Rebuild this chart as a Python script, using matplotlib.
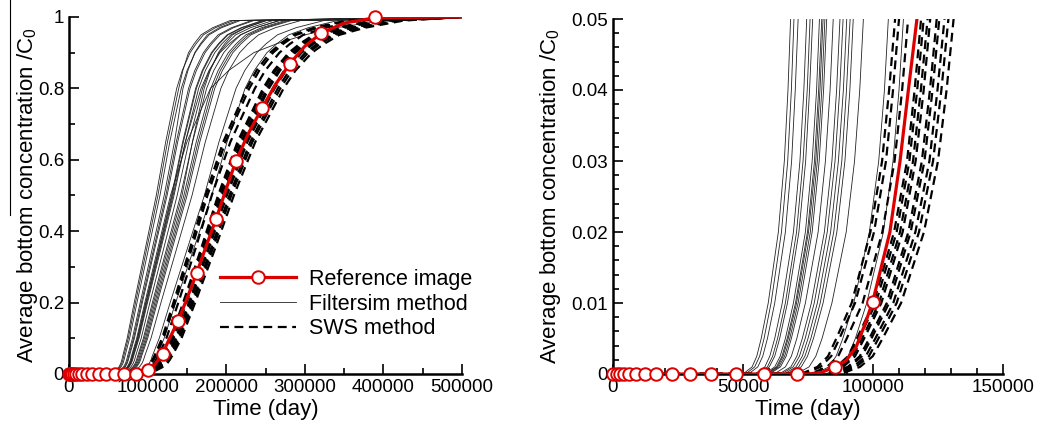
import numpy as np
import matplotlib
matplotlib.use('Agg')
import matplotlib.pyplot as plt
from matplotlib.lines import Line2D
from matplotlib.ticker import MultipleLocator, FuncFormatter

plt.rcParams['font.family'] = ['Liberation Sans', 'DejaVu Sans']
plt.rcParams['mathtext.fontset'] = 'custom'
plt.rcParams['mathtext.rm'] = 'Liberation Sans'

# concentration levels at which each realisation's crossing time was read
levels = [0, 0.001, 0.0025, 0.005, 0.01, 0.02, 0.03, 0.04, 0.05,
          0.1, 0.2, 0.35, 0.5, 0.65, 0.8, 0.85, 0.9, 0.925, 0.95, 0.97, 0.99]

# crossing times, thousand days
filtersim_times = [
    [50, 53.5, 55.3, 57, 59.7, 63.6, 65.9, 67.3, 68.3, 74, 83, 97, 111, 123, 137, 144.1, 154, 161.7, 171, 186.2, 209],
    [51, 54.5, 56.4, 58.1, 60.8, 64.8, 67.2, 68.6, 69.6, 75.4, 84.6, 98.8, 113.1, 125.3, 139.6, 144.8, 152, 159.2, 168, 182.8, 205],
    [52.1, 55.7, 57.6, 59.4, 62.2, 66.3, 68.7, 70.1, 71.2, 77.1, 86.5, 101.1, 115.7, 128.2, 142.8, 150.2, 160.5, 168.5, 178.2, 194, 217.8],
    [54.6, 58.4, 60.3, 62.2, 65.1, 69.4, 71.9, 73.4, 74.5, 80.7, 90.6, 105.8, 121.1, 134.2, 145, 151.3, 160, 167.2, 176, 191.2, 214],
    [55.5, 59.4, 61.4, 63.3, 66.3, 70.6, 73.1, 74.7, 75.8, 82.1, 92.1, 107.7, 123.2, 136.5, 152.1, 160, 171, 179.5, 189.8, 206.7, 232],
    [56.2, 60.1, 62.2, 64.1, 67.1, 71.5, 74.1, 75.6, 76.8, 83.2, 93.3, 109, 124.8, 138.3, 154, 162, 173.1, 181.7, 192.2, 209.3, 235],
    [58.2, 62.2, 64.3, 66.3, 69.4, 74, 76.6, 78.3, 79.4, 86.1, 96.5, 112.8, 129.1, 150, 180, 203.1, 235, 264.3, 300, 340, 400],
    [58.8, 62.9, 65, 67, 70.2, 74.8, 77.5, 79.1, 80.3, 87, 97.6, 114.1, 130.5, 144.6, 161.1, 169.5, 181.1, 190.1, 201.1, 219, 245.8],
    [59.2, 63.3, 65.4, 67.4, 70.6, 75.2, 78, 79.6, 80.8, 87.5, 98.2, 114.8, 131.3, 145.5, 162.1, 170.5, 182.2, 191.2, 202.3, 220.3, 247.2],
    [59.7, 63.8, 66, 68, 71.2, 75.9, 78.6, 80.3, 81.5, 88.3, 99, 115.7, 132.4, 148, 168, 178.1, 192, 203.7, 218, 238, 268],
    [60.2, 64.4, 66.6, 68.6, 71.9, 76.6, 79.3, 81, 82.2, 89.1, 99.9, 116.8, 133.6, 148.1, 164.9, 173.5, 185.4, 194.6, 205.9, 224.2, 251.6],
    [62, 66.3, 68.6, 70.7, 74, 78.9, 81.7, 83.5, 84.7, 91.8, 102.9, 120.3, 137.6, 152.5, 169.9, 178.8, 191, 200.5, 212, 230.9, 259.2],
    [63.9, 68.4, 70.7, 72.8, 76.3, 81.3, 84.2, 86, 87.3, 94.6, 106.1, 124, 141.9, 157.2, 175.1, 184.2, 196.8, 206.6, 218.5, 237.9, 267.1],
    [64.8, 69.3, 71.7, 73.9, 77.4, 82.4, 85.4, 87.2, 88.5, 95.9, 107.6, 125.7, 143.8, 157, 172, 179.6, 190, 198.1, 208, 224.8, 250],
    [65.8, 70.4, 72.8, 75, 78.6, 83.7, 86.7, 88.6, 89.9, 97.4, 109.2, 127.7, 146.1, 161.9, 180.3, 189.7, 202.7, 212.7, 225, 245, 275],
    [66.8, 71.4, 73.8, 76.1, 79.7, 84.9, 88, 89.8, 91.2, 98.8, 110.8, 129.5, 148.2, 164.2, 182.9, 192.4, 205.6, 215.8, 228.3, 248.6, 279],
    [67.6, 72.4, 74.8, 77.1, 80.8, 86.1, 89.2, 91.1, 92.4, 100.1, 112.3, 131.2, 150.2, 166.4, 185.4, 195.1, 208.4, 218.8, 231.4, 252, 282.8],
    [70.5, 75.4, 78, 80.4, 84.2, 89.7, 92.9, 94.9, 96.3, 104.3, 117, 136.8, 156.5, 173.4, 193.2, 203.2, 217.1, 227.9, 241.1, 262.5, 294.7],
    [77.6, 83, 85.8, 88.4, 92.6, 98.6, 102.2, 104.4, 105.9, 114.8, 128.7, 150.4, 172.2, 190.8, 212.5, 223.6, 238.9, 250.7, 265.2, 288.8, 324.2],
    [81.8, 87.5, 90.4, 93.2, 97.6, 104, 107.7, 110, 111.7, 121, 135.7, 158.6, 181.5, 201.1, 224, 235.7, 251.8, 264.3, 279.6, 304.4, 341.7],
]

sws_times = [
    [72.3, 78.6, 82.7, 85.9, 91.8, 99, 103.5, 106.2, 108.5, 118.4, 132.9, 153.7, 173.6, 196.2, 226, 238.5, 255.8, 268.9, 284.8, 311.9, 352.6],
    [73.3, 79.8, 83.9, 87.1, 93.1, 100.4, 105, 107.7, 110, 120.1, 134.8, 155.9, 176.1, 199, 229.3, 242, 259.5, 272.7, 288.9, 316.4, 357.6],
    [75.7, 82.3, 86.6, 89.9, 96, 103.6, 108.3, 111.2, 113.5, 123.9, 139.1, 160.8, 181.6, 205.3, 236.5, 249.6, 267.7, 281.3, 298, 326.4, 368.9],
    [79, 85.9, 90.4, 93.8, 100.2, 108.1, 113.1, 116, 118.5, 129.4, 145.2, 167.9, 189.6, 214.3, 246.9, 260.6, 279.5, 293.7, 311.1, 340.7, 385.1],
    [79.7, 86.7, 91.1, 94.6, 101.1, 109.1, 114, 117, 119.5, 130.5, 146.4, 169.3, 191.2, 216.1, 249, 262.8, 281.9, 296.2, 313.7, 343.6, 388.4],
    [80.6, 87.7, 92.2, 95.8, 102.3, 110.4, 115.4, 118.4, 121, 132.1, 148.2, 171.4, 193.5, 218.7, 252, 266, 285.3, 299.8, 317.5, 347.7, 393.1],
    [81.4, 88.5, 93.1, 96.6, 103.2, 111.4, 116.4, 119.5, 122, 133.2, 149.5, 172.9, 195.3, 220.7, 254.3, 268.4, 287.8, 302.5, 320.4, 350.9, 396.6],
    [83, 90.3, 94.9, 98.6, 105.3, 113.6, 118.8, 121.9, 124.5, 135.9, 152.5, 176.4, 199.2, 225.1, 259.4, 273.8, 293.6, 308.5, 326.8, 357.9, 404.6],
    [83.7, 91, 95.7, 99.4, 106.2, 114.5, 119.8, 122.9, 125.5, 137, 153.8, 177.8, 200.8, 227, 261.5, 276, 296, 311.1, 329.5, 360.9, 408],
    [85, 92.4, 97.2, 100.9, 107.8, 116.3, 121.7, 124.8, 127.5, 139.2, 156.2, 180.6, 204, 230.6, 265.6, 280.3, 300.7, 316, 334.7, 366.6, 414.4],
    [86, 93.5, 98.4, 102.1, 109.1, 117.7, 123.1, 126.3, 129, 140.8, 158, 182.8, 206.4, 233.3, 268.8, 283.7, 304.2, 319.7, 338.6, 370.9, 419.3],
    [87.4, 95, 99.9, 103.7, 110.8, 119.6, 125, 128.3, 131, 143.1, 160.5, 185.6, 209.7, 237, 273, 288.1, 309, 324.8, 344, 376.8, 425.9],
]

# reference image curve (thousand days)
ref_line_t = [0, 70.6, 75, 80, 85.4, 89.7, 93.5, 96.9, 99.9, 103, 106.5, 110.4, 113.6, 116.9,
              119, 128, 139, 150.5, 162.3, 174.5, 186.9, 199.5, 212.3, 228.5, 245.7, 263, 280.9,
              300, 321.2, 350, 389.8, 500]
ref_line_c = [0, 0, 0, 0.0002, 0.001, 0.0019, 0.0038, 0.007, 0.0102, 0.0148, 0.02, 0.03, 0.04, 0.05,
              0.057, 0.1, 0.149, 0.214, 0.282, 0.358, 0.433, 0.515, 0.596, 0.675, 0.745, 0.812, 0.869,
              0.918, 0.955, 0.983, 0.998, 1.0]
ref_mark_t = [0, 1.4, 2.7, 4.4, 6.3, 8.7, 12.3, 16.5, 22.6, 29.6, 37.6, 47.4, 58.2, 70.6,
              85.4, 99.9, 119, 139, 162.3, 186.9, 212.3, 245.7, 280.9, 321.2, 389.8]
ref_mark_c = [0, 0, 0, 0, 0, 0, 0, 0, 0, 0, 0, 0, 0, 0,
              0.001, 0.0102, 0.057, 0.149, 0.282, 0.433, 0.596, 0.745, 0.869, 0.955, 1.0]

red = '#dd0000'
fig = plt.figure(figsize=(10.38, 4.25), dpi=100)
ax1 = fig.add_axes([69/1038, 1-374/425, 393/1038, 357/425])
ax2 = fig.add_axes([613/1038, 1-374/425, 390/1038, 355/425])

ylevels = [0] + levels + [1.0]
mark_t = np.array(ref_mark_t) * 1000
mark_c = np.array(ref_mark_c)
for ax, tmax, cmax in ((ax1, 500000, 1.0), (ax2, 150000, 0.05)):
    for row in filtersim_times:
        ax.plot(np.array([0] + row + [500]) * 1000, ylevels, color='#222222', lw=0.6)
    for row in sws_times:
        ax.plot(np.array([0] + row + [500]) * 1000, ylevels, color='k', lw=1.6,
                ls=(0, (4, 2.5)))
    ax.plot(np.array(ref_line_t) * 1000, ref_line_c, color=red, lw=2.3, zorder=5)
    keep = (mark_t <= tmax) & (mark_c <= cmax)
    ax.plot(mark_t[keep], mark_c[keep], ls='none', marker='o', ms=9,
            mfc='white', mec=red, mew=1.4, zorder=6, clip_on=False)

    for s in ('top', 'right'):
        ax.spines[s].set_visible(False)
    for s in ('left', 'bottom'):
        ax.spines[s].set_linewidth(1.8)
    ax.tick_params(which='both', direction='in', labelsize=13.5, width=1.2)
    ax.tick_params(which='major', length=7)
    ax.tick_params(which='minor', length=4)
    ax.xaxis.set_major_formatter(FuncFormatter(lambda v, p: '%d' % round(v)))
    ax.yaxis.set_major_formatter(FuncFormatter(lambda v, p: '%g' % round(v, 4)))
    ax.set_xlabel('Time (day)', fontsize=16, labelpad=2)
    ax.set_ylabel('Average bottom concentration /C$_\\mathregular{0}$', fontsize=16)

ax1.set_xlim(0, 500000)
ax1.set_ylim(0, 1)
ax1.xaxis.set_major_locator(MultipleLocator(100000))
ax1.xaxis.set_minor_locator(MultipleLocator(50000))
ax1.yaxis.set_major_locator(MultipleLocator(0.2))
ax1.yaxis.set_minor_locator(MultipleLocator(0.1))
ax1.yaxis.set_label_coords(-0.075, 0.5)

ax2.set_xlim(0, 150000)
ax2.set_ylim(0, 0.05)
ax2.xaxis.set_major_locator(MultipleLocator(50000))
ax2.xaxis.set_minor_locator(MultipleLocator(10000))
ax2.yaxis.set_major_locator(MultipleLocator(0.01))
ax2.yaxis.set_minor_locator(MultipleLocator(0.002))
ax2.yaxis.set_label_coords(-0.128, 0.5)

handles = [
    Line2D([], [], color=red, lw=2.3, marker='o', ms=9, mfc='white', mec=red, mew=1.4),
    Line2D([], [], color='#222222', lw=0.6),
    Line2D([], [], color='k', lw=1.6, ls=(0, (4, 2.5))),
]
ax1.legend(handles, ['Reference image', 'Filtersim method', 'SWS method'],
           loc='upper left', bbox_to_anchor=(0.385, 0.295), frameon=False,
           fontsize=15.5, handlelength=3.5, handletextpad=0.6, labelspacing=0.18,
           borderpad=0, borderaxespad=0)

# overline drawn over the left y label
fig.add_artist(Line2D([10/1038, 10/1038], [1.0, 1-215/425], transform=fig.transFigure,
                      color='k', lw=0.8))

fig.savefig('out.png', dpi=100)
